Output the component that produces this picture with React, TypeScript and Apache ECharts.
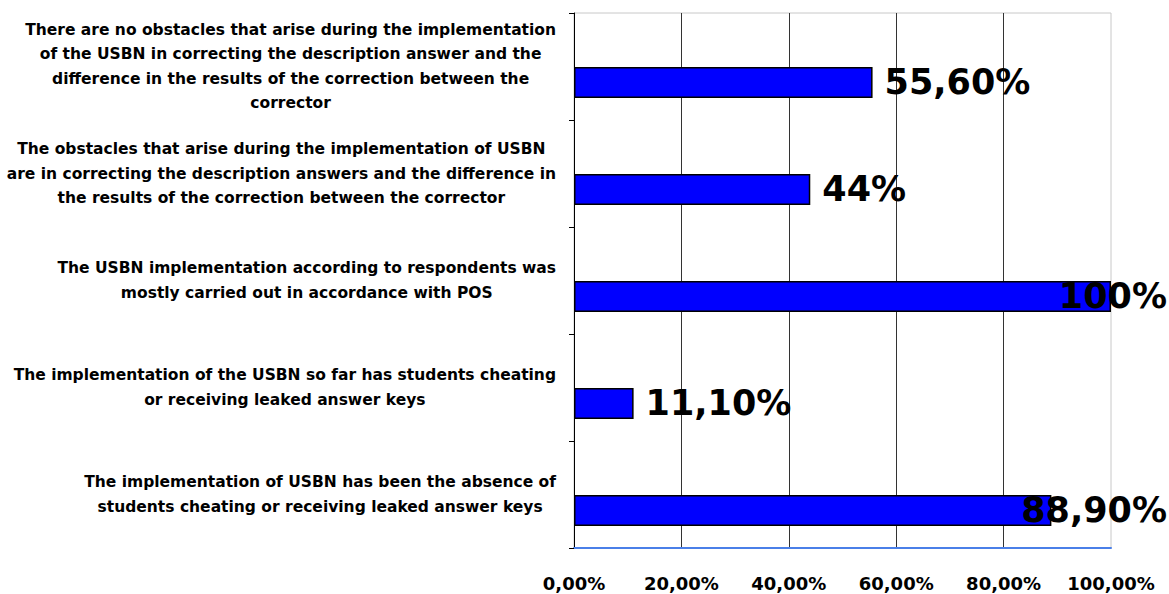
import React, { useEffect, useRef } from "react";
import * as echarts from "echarts";

const categories = [
  "There are no obstacles that arise during the implementation\nof the USBN in correcting the description answer and the\ndifference in the results of the correction between the\ncorrector",
  "The obstacles that arise during the implementation of USBN\nare in correcting the description answers and the difference in\nthe results of the correction between the corrector",
  "The USBN implementation according to respondents was\nmostly carried out in accordance with POS",
  "The implementation of the USBN so far has students cheating\nor receiving leaked answer keys",
  "The implementation of USBN has been the absence of\nstudents cheating or receiving leaked answer keys",
];
const values = [55.6, 44, 100, 11.1, 88.9];
const valueLabels = ["55,60%", "44%", "100%", "11,10%", "88,90%"];
const axisMin = 0;
const axisMax = 100;
const axisStep = 20;

const FONT = "DejaVu Sans";

export default function App() {
  const ref = useRef<HTMLDivElement>(null);
  useEffect(() => {
    if (!ref.current) return;
    const chart = echarts.init(ref.current, undefined, { renderer: "svg" });
    const data = values.map((v) => {
      const overflow = v > 80;
      return {
        value: v,
        label: overflow
          ? { position: [593, "50%"], align: "right", verticalAlign: "middle" }
          : { position: "right", distance: 12 },
      };
    });
    chart.setOption({
      animation: false,
      backgroundColor: "#ffffff",
      grid: {
        left: 574,
        right: 58,
        top: 13,
        bottom: 46,
        show: true,
        borderColor: "#c8c8c8",
        borderWidth: 1,
        backgroundColor: "transparent",
      },
      xAxis: {
        type: "value",
        min: axisMin,
        max: axisMax,
        interval: axisStep,
        axisLine: { show: true, lineStyle: { color: "#4a7fe8", width: 2 } },
        axisTick: { show: false },
        splitLine: {
          show: true,
          showMinLine: false,
          showMaxLine: false,
          lineStyle: { color: "#333333", width: 1 },
        },
        axisLabel: {
          margin: 26,
          color: "#000",
          fontFamily: FONT,
          fontWeight: "bold",
          fontSize: 18,
          formatter: (v: number) => v.toFixed(2).replace(".", ",") + "%",
        },
      },
      yAxis: {
        type: "category",
        inverse: true,
        data: categories,
        axisLine: { show: true, lineStyle: { color: "#000", width: 1 } },
        axisTick: { show: true, length: 5, lineStyle: { color: "#000" } },
        splitLine: { show: false },
        axisLabel: {
          margin: 18,
          color: "#000",
          fontFamily: FONT,
          fontWeight: "bold",
          fontSize: 15.5,
          lineHeight: 24.5,
          align: "right",
          formatter: (v: string) =>
            v
              .split("\n")
              .map((l) => `{c|${l}}`)
              .join("\n"),
          rich: {
            c: {
              align: "center",
              color: "#000",
              fontFamily: FONT,
              fontWeight: "bold",
              fontSize: 15.5,
              lineHeight: 24.5,
            },
          },
        },
      },
      series: [
        {
          type: "bar",
          data: values.map(() => null),
          barWidth: 31,
          barGap: "3%",
        },
        {
          type: "bar",
          data,
          barWidth: 31,
          barGap: "3%",
          itemStyle: { color: "#0000ff", borderColor: "#000", borderWidth: 1.5 },
          label: {
            show: true,
            color: "#000",
            fontFamily: FONT,
            fontWeight: "bold",
            fontSize: 35,
            formatter: (p: any) => valueLabels[p.dataIndex],
          },
        },
      ],
    });
    return () => chart.dispose();
  }, []);
  return (
    <div
      ref={ref}
      style={{ position: "fixed", left: 0, top: 0, width: 1169, height: 594 }}
    />
  );
}
